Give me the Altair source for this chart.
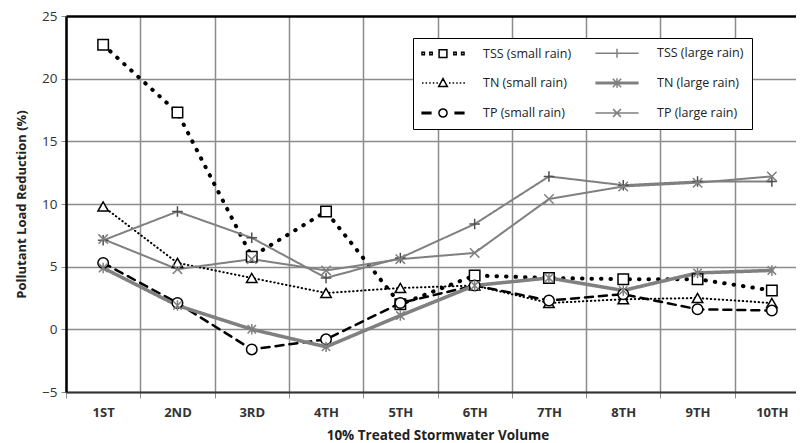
import altair as alt
import pandas as pd

# ---------------- data ----------------
cats = ["1ST", "2ND", "3RD", "4TH", "5TH", "6TH", "7TH", "8TH", "9TH", "10TH"]
tss_small = [22.7, 17.3, 5.8, 9.4, 2.0, 4.3, 4.1, 4.0, 4.0, 3.1]
tss_large = [7.1, 9.4, 7.3, 4.1, 5.7, 8.4, 12.2, 11.5, 11.8, 11.8]
tn_small = [9.8, 5.3, 4.1, 2.9, 3.3, 3.5, 2.1, 2.4, 2.5, 2.1]
tn_large = [4.9, 1.9, 0.0, -1.4, 1.1, 3.5, 4.1, 3.1, 4.5, 4.7]
tp_small = [5.3, 2.1, -1.6, -0.8, 2.1, 3.5, 2.3, 2.8, 1.6, 1.5]
tp_large = [7.2, 4.8, 5.6, 4.7, 5.6, 6.1, 10.4, 11.4, 11.7, 12.2]

# legend fills column by column: small-rain series first, then large-rain
names = ["TSS (small rain)", "TN (small rain)", "TP (small rain)",
         "TSS (large rain)", "TN (large rain)", "TP (large rain)"]
values = [tss_small, tn_small, tp_small, tss_large, tn_large, tp_large]

rows = []
for name, vals in zip(names, values):
    for i, (c, v) in enumerate(zip(cats, vals)):
        rows.append({"series": name, "cat": c, "idx": i, "val": v})
df = pd.DataFrame(rows)

# ---------------- styles ----------------
FONT = "Open Sans"
GRAY = "#808080"
line_colors = ["#000000", "#000000", "#000000", GRAY, GRAY, GRAY]
marker_colors = ["#000000", "#000000", "#000000", "#505050", GRAY, GRAY]
dashes = [[0.5, 9], [0.5, 3.5], [8, 6], [1, 0], [1, 0], [1, 0]]
widths = [4, 2, 2.5, 2, 3.5, 2]

plus = "M-1,0L1,0M0,-1L0,1"
aster = "M0,-1L0,1M-0.8,-0.8L0.8,0.8M-0.8,0.8L0.8,-0.8"
xmark = "M-0.9,-0.9L0.9,0.9M-0.9,0.9L0.9,-0.9"
marker_shapes = ["square", "triangle-up", "circle", plus, aster, xmark]


def dots(xs, h):
    return "".join(f"M{x - h:.2f},{-h:.2f}h{2 * h:.2f}v{2 * h:.2f}h{-2 * h:.2f}Z" for x in xs)


def segs(xs, ln):
    return "".join(f"M{x:.2f},0h{ln:.2f}" for x in xs)


sq = "M-0.65,-0.65h1.3v1.3h-1.3Z"
tri = "M0,-0.75L0.72,0.6L-0.72,0.6Z"
circ = "M0.68,0A0.68,0.68 0 1,1 -0.68,0A0.68,0.68 0 1,1 0.68,0Z"
legend_paths = [
    dots([-3.3, -2.0, 2.0, 3.3], 0.2) + sq,
    segs([-3.5, -2.9, -2.3, -1.7, -1.1], 0.25) + segs([1.0, 1.6, 2.2, 2.8, 3.4], 0.25) + tri,
    "M-3.6,-0.13H-1.9M-3.6,0.13H-1.9M1.9,-0.13H3.6M1.9,0.13H3.6" + circ,
    "M-3.6,0H3.6M0,-0.75V0.75",
    "M-3.6,-0.13H3.6M-3.6,0.13H3.6M0,-0.8V0.8M-0.7,-0.7L0.7,0.7M-0.7,0.7L0.7,-0.7",
    "M-3.6,0H3.6M-0.65,-0.65L0.65,0.65M-0.65,0.65L0.65,-0.65",
]

# ---------------- encodings ----------------
x_enc = alt.X(
    "cat:N", sort=cats, bandPosition=0.5,
    scale=alt.Scale(type="band", domain=cats, paddingInner=0, paddingOuter=0, range=[0, 743]),
    axis=alt.Axis(
        title="10% Treated Stormwater Volume", tickBand="extent", grid=True,
        gridColor="#8c8c8c", gridWidth=1.5, tickColor="#8c8c8c", tickSize=6,
        domainColor="#333333", domainWidth=2, labelAngle=0,
        labelFont=FONT, labelFontSize=13, labelFontWeight="bold", labelColor="#333333",
        labelPadding=8, titleFont=FONT, titleFontSize=13.5, titleFontWeight="bold",
        titleColor="#222222", titlePadding=9,
    ),
)
y_enc = alt.Y(
    "val:Q",
    scale=alt.Scale(domain=[-5, 25], nice=False, zero=False),
    axis=alt.Axis(
        title="Pollutant Load Reduction (%)", values=[-5, 0, 5, 10, 15, 20, 25],
        grid=True,
        gridColor={"condition": {"test": "datum.value === 25", "value": "#000000"}, "value": "#8c8c8c"},
        gridWidth={"condition": {"test": "datum.value === 25", "value": 2.5}, "value": 1.5},
        tickColor="#8c8c8c", tickSize=5, domainColor="#000000", domainWidth=2.5,
        labelFont=FONT, labelFontSize=13.5, labelColor="#333333", labelPadding=4,
        titleFont=FONT, titleFontSize=13, titleFontWeight="bold", titleColor="#222222",
        titlePadding=13,
    ),
)

base = alt.Chart(df)

lines = base.mark_line(strokeCap="round", strokeJoin="round").encode(
    x=x_enc, y=y_enc,
    order=alt.Order("idx:Q"),
    stroke=alt.Stroke("series:N", scale=alt.Scale(domain=names, range=line_colors), legend=None),
    strokeDash=alt.StrokeDash("series:N", scale=alt.Scale(domain=names, range=dashes), legend=None),
    strokeWidth=alt.StrokeWidth("series:N", scale=alt.Scale(type="ordinal", domain=names, range=widths),
                                legend=None),
)

points = base.mark_point(filled=True, fill="white", strokeWidth=1.5, opacity=1, size=110).encode(
    x=x_enc, y=y_enc,
    shape=alt.Shape("series:N", scale=alt.Scale(domain=names, range=marker_shapes), legend=None),
    stroke=alt.Stroke("series:N", scale=alt.Scale(domain=names, range=marker_colors), legend=None),
)

leg_def = dict(
    orient="none", legendX=347, legendY=22, columns=2, title=None,
    symbolSize=144, symbolStrokeWidth=1.5, symbolOffset=15, labelOffset=33,
    rowPadding=14, columnPadding=20, padding=8,
    fillColor="white", strokeColor="#000000",
    labelFont=FONT, labelFontSize=12.5, labelColor="#222222", labelLimit=0,
    symbolFillColor="transparent",
)
legend_layer = base.transform_filter("false").mark_point(filled=False, strokeWidth=1.5, opacity=1).encode(
    x=x_enc, y=y_enc,
    shape=alt.Shape("series:N", scale=alt.Scale(domain=names, range=legend_paths),
                    legend=alt.Legend(**leg_def)),
    stroke=alt.Stroke("series:N", scale=alt.Scale(domain=names, range=line_colors),
                      legend=alt.Legend(**leg_def)),
)

chart = (
    alt.layer(lines, points, legend_layer)
    .resolve_scale(stroke="independent", shape="independent")
    .properties(
        width=730, height=376,
        autosize=alt.AutoSizeParams(type="none"),
        padding={"left": 58, "top": 8, "right": 0, "bottom": 51},
        background="white",
    )
    .configure_view(strokeWidth=0)
)

chart.save("out.html", embed_options={"renderer": "svg", "actions": False})
